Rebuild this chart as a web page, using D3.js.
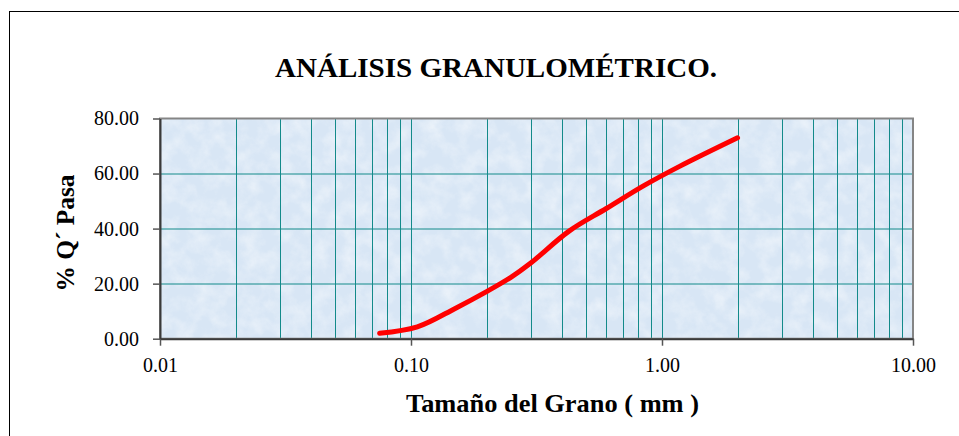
<!DOCTYPE html>
<html>
<head>
<meta charset="utf-8">
<script src="https://cdn.jsdelivr.net/npm/d3@7"></script>
<style>
  html, body { margin: 0; padding: 0; background: #fff; }
  svg { display: block; }
  text { font-family: "Liberation Serif", "DejaVu Serif", serif; fill: #000; }
</style>
</head>
<body>
<svg id="chart"></svg>
<script>
// grain size (mm) and % passing
var tamano = [0.075, 0.106, 0.15, 0.2, 0.25, 0.3, 0.425, 0.6, 0.85, 1.18, 2.0];
var pasa   = [2.0, 4.3, 11.0, 17.1, 22.3, 27.5, 39.0, 47.3, 55.7, 62.7, 73.0];

var xTicks = [0.01, 0.1, 1, 10];
var yTicks = [0, 20, 40, 60, 80];
var titulo = "ANÁLISIS GRANULOMÉTRICO.";
var xTitulo = "Tamaño del Grano ( mm )";
var yTitulo = "% Q´ Pasa";

var svgWidth = 959, svgHeight = 436;
var margin = { top: 118.5, right: 46, bottom: 97.3, left: 160 };
var width = svgWidth - margin.left - margin.right;
var height = svgHeight - margin.top - margin.bottom;

var svg = d3.select("#chart")
	.attr("width", svgWidth)
	.attr("height", svgHeight);

//textured background
var defs = svg.append("defs");
var filt = defs.append("filter").attr("id", "tex")
	.attr("x", 0).attr("y", 0).attr("width", "100%").attr("height", "100%");
filt.append("feTurbulence")
	.attr("type", "fractalNoise")
	.attr("baseFrequency", 0.06)
	.attr("numOctaves", 4)
	.attr("seed", 7);
filt.append("feColorMatrix")
	.attr("type", "matrix")
	.attr("values", "0 0 0 0 1  0 0 0 0 1  0 0 0 0 1  1.6 0 0 0 -0.6");
defs.append("clipPath").attr("id", "clip")
	.append("rect").attr("width", width).attr("height", height);

//outer frame
svg.append("rect")
	.attr("x", 9.5).attr("y", 11.5)
	.attr("width", 990).attr("height", 440)
	.attr("fill", "none")
	.attr("stroke", "#000")
	.attr("stroke-width", 1);

var g = svg.append("g")
	.attr("transform", `translate(${margin.left},${margin.top})`);

var x = d3.scaleLog()
	.domain([0.01, 10])
	.range([0, width]);

var y = d3.scaleLinear()
	.domain([0, 80])
	.range([height, 0]);

g.append("rect")
	.attr("width", width).attr("height", height)
	.attr("fill", "#d8e6f5");
g.append("rect")
	.attr("width", width).attr("height", height)
	.attr("filter", "url(#tex)")
	.attr("opacity", 0.55);

//grid lines: every 1..9 x 10^k
var minor = [];
[0.01, 0.1, 1].forEach(function(dec){
	for(var k = 2; k <= 9; k++) minor.push(dec * k);
});
minor.push(0.1, 1);

g.append("g")
	.selectAll("line")
	.data(minor)
	.join("line")
		.attr("x1", d => Math.round(x(d)) + 0.5)
		.attr("x2", d => Math.round(x(d)) + 0.5)
		.attr("y1", 0)
		.attr("y2", height)
		.attr("stroke", "#138a8a")
		.attr("stroke-width", 1);

g.append("g")
	.selectAll("line")
	.data(yTicks.filter(d => d > 0 && d < 80))
	.join("line")
		.attr("x1", 0)
		.attr("x2", width)
		.attr("y1", d => Math.round(y(d)) + 0.5)
		.attr("y2", d => Math.round(y(d)) + 0.5)
		.attr("stroke", "#138a8a")
		.attr("stroke-width", 1);

//plot border (top/right grey)
g.append("rect")
	.attr("width", width).attr("height", height)
	.attr("fill", "none")
	.attr("stroke", "#858585")
	.attr("stroke-width", 2);

//axes
var xAxis = g.append("g")
	.attr("transform", `translate(0,${height})`)
	.call(d3.axisBottom(x)
		.tickValues(xTicks)
		.tickFormat(d3.format(".2f"))
		.tickSize(7)
		.tickSizeOuter(0)
		.tickPadding(12));

var yAxis = g.append("g")
	.call(d3.axisLeft(y)
		.tickValues(yTicks)
		.tickFormat(d3.format(".2f"))
		.tickSize(7)
		.tickSizeOuter(0)
		.tickPadding(14));

[xAxis, yAxis].forEach(function(a){
	a.select(".domain").attr("stroke", "#3a3a3a").attr("stroke-width", 2);
	a.selectAll(".tick line").attr("stroke", "#555").attr("stroke-width", 1.5);
	a.selectAll(".tick text")
		.style("font-family", '"Liberation Serif", serif')
		.style("font-size", "20px")
		.attr("fill", "#111");
});

//curve
var line = d3.line()
	.x((d, i) => x(tamano[i]))
	.y(d => y(d))
	.curve(d3.curveCatmullRom.alpha(0.5));

g.append("path")
	.datum(pasa)
	.attr("clip-path", "url(#clip)")
	.attr("fill", "none")
	.attr("stroke", "#ff0000")
	.attr("stroke-width", 5)
	.attr("stroke-linecap", "round")
	.attr("stroke-linejoin", "round")
	.attr("d", line);

//titles
svg.append("text")
	.attr("x", 496)
	.attr("y", 77)
	.attr("text-anchor", "middle")
	.attr("textLength", 442)
	.attr("lengthAdjust", "spacingAndGlyphs")
	.style("font-size", "27px")
	.style("font-weight", "bold")
	.text(titulo);

svg.append("text")
	.attr("x", 552.5)
	.attr("y", 412)
	.attr("text-anchor", "middle")
	.attr("textLength", 293)
	.attr("lengthAdjust", "spacingAndGlyphs")
	.style("font-size", "25px")
	.style("font-weight", "bold")
	.text(xTitulo);

svg.append("text")
	.attr("transform", "translate(74,233) rotate(-90)")
	.attr("text-anchor", "middle")
	.attr("textLength", 117)
	.attr("lengthAdjust", "spacingAndGlyphs")
	.style("font-size", "25px")
	.style("font-weight", "bold")
	.text(yTitulo);
</script>
</body>
</html>
